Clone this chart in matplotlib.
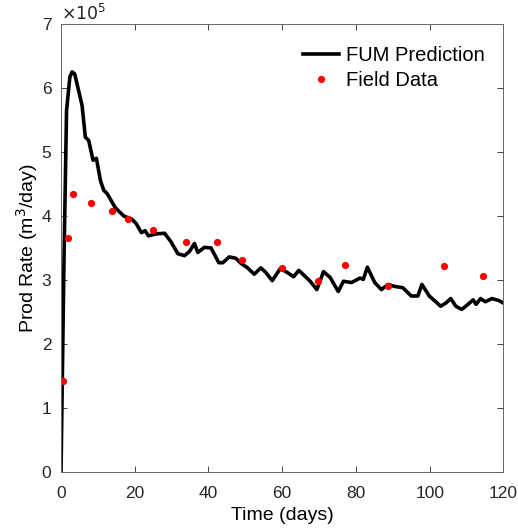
import numpy as np
import matplotlib.pyplot as plt

plt.rcParams['font.family'] = ['Liberation Sans', 'DejaVu Sans']

# FUM prediction (days, rate in 1e5 m3/day)
pred_t = [0, 0.8, 1.5, 2.4, 3.0, 3.7, 4.6, 5.7, 6.6, 7.5, 8.7, 9.6, 10.7, 11.6, 12.5,
          14.7, 17.0, 19.2, 20.4, 21.8, 22.8, 23.7, 25.8, 28.1, 29.9, 31.7, 33.5, 34.9,
          36.2, 37.1, 38.9, 40.7, 42.8, 43.9, 45.6, 47.4, 48.8, 50.6, 52.4, 54.2, 55.5,
          57.3, 59.5, 61.3, 63.1, 64.5, 65.8, 67.6, 69.4, 71.2, 73.0, 75.2, 76.6, 78.8,
          81.1, 82.0, 83.1, 85.1, 86.9, 88.7, 90.5, 92.7, 95.0, 96.8, 97.9, 99.9, 103.0,
          104.4, 105.7, 107.1, 108.7, 110.2, 111.8, 112.6, 113.8, 115.1, 116.9, 118.7, 120.0]
pred_q = [0, 3.3, 5.65, 6.17, 6.25, 6.22, 6.0, 5.73, 5.23, 5.18, 4.87, 4.9, 4.55, 4.4, 4.35,
          4.13, 4.0, 3.95, 3.88, 3.74, 3.77, 3.69, 3.72, 3.73, 3.59, 3.41, 3.38, 3.45,
          3.57, 3.43, 3.51, 3.5, 3.27, 3.27, 3.36, 3.34, 3.26, 3.19, 3.09, 3.19, 3.12,
          2.99, 3.18, 3.12, 3.05, 3.15, 3.08, 2.98, 2.85, 3.13, 3.04, 2.82, 2.98, 2.96,
          3.03, 3.01, 3.2, 2.96, 2.85, 2.93, 2.9, 2.88, 2.75, 2.75, 2.93, 2.75, 2.59,
          2.64, 2.71, 2.59, 2.54, 2.61, 2.69, 2.62, 2.71, 2.66, 2.71, 2.68, 2.64]

# field data
field_t = [0.5, 1.9, 3.2, 8.1, 13.7, 18.3, 25.0, 33.9, 42.2, 49.0, 60.0, 69.7, 77.0, 88.8, 104.0, 114.6]
field_q = [1.42, 3.65, 4.35, 4.2, 4.08, 3.95, 3.78, 3.6, 3.6, 3.32, 3.18, 2.98, 3.24, 2.9, 3.22, 3.06]

fig = plt.figure(figsize=(5.18, 5.31), dpi=100, facecolor='white')
ax = fig.add_axes([0.1178, 0.111, 0.854, 0.844])

ax.plot(pred_t, np.array(pred_q) * 1e5, color='black', linewidth=2.6, label='FUM Prediction',
        solid_joinstyle='round')
ax.plot(field_t, np.array(field_q) * 1e5, 'o', color='red', markersize=5.2, markeredgewidth=0,
        label='Field Data')

ax.set_xlim(0, 120)
ax.set_ylim(0, 7e5)
ax.set_xticks(np.arange(0, 121, 20))
ax.set_yticks(np.arange(0, 7.1e5, 1e5))
ax.set_yticklabels([str(i) for i in range(8)])
ax.tick_params(direction='in', length=4, labelsize=12.5, colors='0.15', top=True, right=True,
               width=0.6)
ax.tick_params(axis='x', pad=10)
ax.tick_params(axis='y', pad=7)
for s in ax.spines.values():
    s.set_color('0.4')
    s.set_linewidth(0.7)

ax.set_xlabel('Time (days)', fontsize=14, labelpad=4)
ax.set_ylabel('Prod Rate (m$^3$/day)', fontsize=14, labelpad=1)
ax.text(0.0, 1.003, r'$\times10^5$', transform=ax.transAxes, fontsize=12.5, color='0.15',
        va='bottom', ha='left', math_fontfamily='dejavusans')

ax.legend(loc='upper right', bbox_to_anchor=(0.976, 0.968), frameon=False, fontsize=14.5,
          handlelength=1.8, borderaxespad=0, labelspacing=0.3, handletextpad=0.35)

plt.savefig('out.png', dpi=100, facecolor=fig.get_facecolor())
